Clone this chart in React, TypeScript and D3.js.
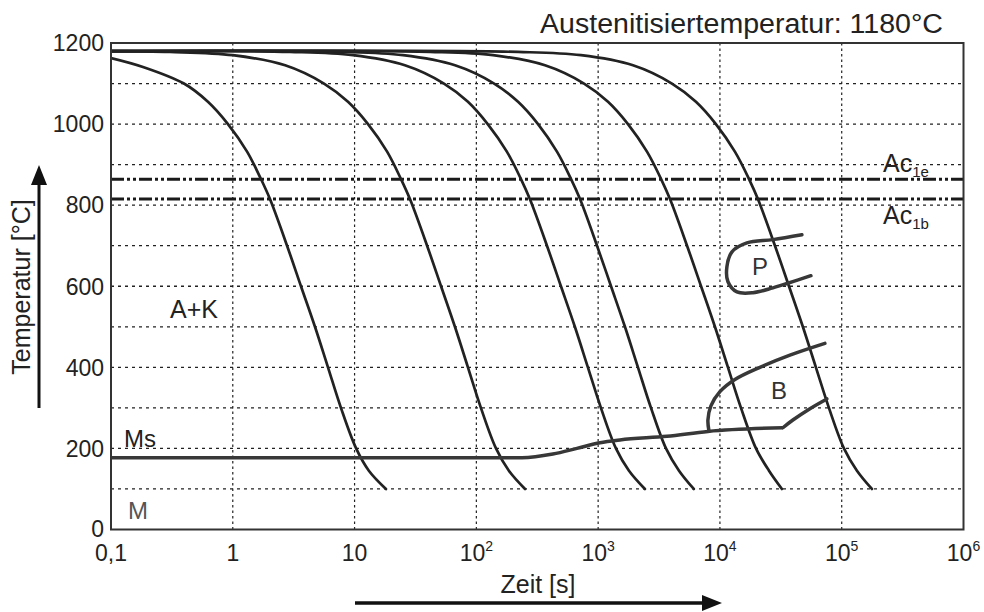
import React from "react";
import * as d3 from "d3";

// ---- data ----
const tempTicks = [0, 200, 400, 600, 800, 1000, 1200];
const tempGrid = [100, 200, 300, 400, 500, 600, 700, 800, 900, 1000, 1100];
const timeDecades = [0.1, 1, 10, 100, 1000, 10000, 100000, 1000000];
const timeTickBase = ["0,1", "1", "10", "10", "10", "10", "10", "10"];
const timeTickExp = ["", "", "", "2", "3", "4", "5", "6"];

const ac1e = 864;
const ac1b = 815;

// cooling curves: time [s], temperature [°C]
const curveA_t = [0.1, 0.183, 0.397, 0.625, 0.913, 1.31, 1.7, 2.02, 2.79, 3.63, 4.73, 6.05, 7.73, 10.3, 13.1, 18.1];
const curveA_T = [1163, 1141, 1100, 1055, 1000, 932, 865, 815, 700, 600, 500, 400, 300, 200, 145, 100];

const curveB_t = [0.1, 0.305, 1.0, 2.69, 5.61, 8.83, 12.9, 18.5, 24.0, 28.5, 39.4, 51.3, 66.7, 85.3, 109, 145, 185, 251];
const curveB_T = [1180, 1178, 1170, 1145, 1100, 1055, 1000, 932, 865, 815, 700, 600, 500, 400, 300, 200, 145, 100];

const curveC_t = [0.1, 2.95, 9.7, 25.9, 54.2, 85.3, 124, 178, 232, 275, 380, 495, 644, 824, 1054, 1400, 1791, 2421];
const curveC_T = [1180, 1178, 1170, 1145, 1100, 1055, 1000, 932, 865, 815, 700, 600, 500, 400, 300, 200, 145, 100];

const curveD_t = [0.1, 7.6, 25.0, 66.8, 140, 220, 321, 459, 598, 710, 979, 1276, 1660, 2123, 2716, 3606, 4613, 6100];
const curveD_T = [1180, 1178, 1170, 1145, 1100, 1055, 1000, 932, 865, 815, 700, 600, 500, 400, 300, 200, 145, 100];

const curveE_t = [0.1, 41.7, 137, 366, 766, 1205, 1758, 2518, 3281, 3890, 5370, 7000, 9100, 11640, 14890, 19770, 25290, 32280];
const curveE_T = [1180, 1178, 1170, 1145, 1100, 1055, 1000, 932, 865, 815, 700, 600, 500, 400, 300, 200, 145, 100];

const curveF_t = [0.1, 220, 723, 1932, 4036, 6353, 9268, 13270, 17300, 20510, 28310, 36900, 47970, 61380, 78520, 104300, 133400, 177000];
const curveF_T = [1180, 1178, 1170, 1145, 1100, 1055, 1000, 932, 865, 815, 700, 600, 500, 400, 300, 200, 145, 100];

// Ms line
const ms_t = [0.1, 237, 425, 670, 1035, 1510, 3673, 7967, 32890];
const ms_T = [177, 177, 186, 200, 214, 221, 230, 242, 251];

// bainite field lower branch
const bLow_t = [32890, 39720, 54830, 75560];
const bLow_T = [251, 270, 298, 322];

// bainite field upper branch
const bUp_t = [8128, 7967, 8433, 10000, 13280, 21290, 37580, 72780];
const bUp_T = [243, 270, 305, 340, 370, 400, 430, 459];

// pearlite field
const p_t = [47100, 27230, 16670, 12560, 11410, 11640, 13800, 18660, 27230, 55850];
const p_T = [727, 715, 707, 685, 648, 611, 586, 584, 596, 626];

// ---- layout ----
const W = 984;
const H = 612;
const L = 111, R = 963.5, T = 43, B = 529.5;
const FONT = "'Liberation Sans', Arial, Helvetica, sans-serif";

const x = d3.scaleLog().domain([0.1, 1e6]).range([L, R]);
const y = d3.scaleLinear().domain([0, 1200]).range([B, T]);

function pts(ts: number[], vs: number[]): [number, number][] {
  return ts.map((t, i) => [t, vs[i]] as [number, number]);
}

const smooth = d3
  .line<[number, number]>()
  .x((d) => x(d[0]))
  .y((d) => y(d[1]))
  .curve(d3.curveCatmullRom.alpha(0.5));

const mono = d3
  .line<[number, number]>()
  .x((d) => x(d[0]))
  .y((d) => y(d[1]))
  .curve(d3.curveMonotoneX);

const cooling = [
  pts(curveA_t, curveA_T),
  pts(curveB_t, curveB_T),
  pts(curveC_t, curveC_T),
  pts(curveD_t, curveD_T),
  pts(curveE_t, curveE_T),
  pts(curveF_t, curveF_T),
];

export default function App() {
  return (
    <svg
      width={W}
      height={H}
      viewBox={`0 0 ${W} ${H}`}
      style={{ position: "absolute", left: 0, top: 0, background: "#fff" }}
      fontFamily={FONT}
    >
      <defs>
        <clipPath id="plot">
          <rect x={L} y={T} width={R - L} height={B - T} />
        </clipPath>
      </defs>

      {/* grid */}
      {tempGrid.map((v) => (
        <line key={"h" + v} x1={L} x2={R} y1={y(v)} y2={y(v)} stroke="#222" strokeWidth={1.3} strokeDasharray="3,4" />
      ))}
      {timeDecades.slice(1, -1).map((v) => (
        <line key={"v" + v} x1={x(v)} x2={x(v)} y1={T} y2={B} stroke="#222" strokeWidth={1.2} strokeDasharray="2.5,3" />
      ))}

      {/* Ac lines */}
      {[ac1e, ac1b].map((v) => (
        <line key={"ac" + v} x1={L} x2={R} y1={y(v)} y2={y(v)} stroke="#1a1a1a" strokeWidth={3} strokeDasharray="13,3,3,3,3,3" />
      ))}

      <g clipPath="url(#plot)">
        {cooling.map((c, i) => (
          <path key={"c" + i} d={smooth(c) || ""} fill="none" stroke="#222" strokeWidth={2.7} strokeLinecap="round" />
        ))}
        <path d={mono(pts(ms_t, ms_T)) || ""} fill="none" stroke="#383838" strokeWidth={3.5} />
        <path d={smooth(pts(bLow_t, bLow_T)) || ""} fill="none" stroke="#383838" strokeWidth={3.5} strokeLinecap="round" />
        <path d={smooth(pts(bUp_t, bUp_T)) || ""} fill="none" stroke="#383838" strokeWidth={3.5} strokeLinecap="round" />
        <path d={smooth(pts(p_t, p_T)) || ""} fill="none" stroke="#383838" strokeWidth={3.5} strokeLinecap="round" />
      </g>

      {/* frame */}
      <rect x={L} y={T} width={R - L} height={B - T} fill="none" stroke="#333" strokeWidth={2} />

      {/* y ticks */}
      {tempTicks.map((v) => (
        <text key={"yt" + v} x={104} y={v === 0 ? 537 : y(v)} dy={v === 0 ? 0 : "0.36em"} textAnchor="end" fontSize={23} fill="#222">
          {v}
        </text>
      ))}

      {/* x ticks */}
      {timeDecades.map((v, i) => (
        <text key={"xt" + v} x={x(v)} y={561} textAnchor="middle" fontSize={23} fill="#222">
          {timeTickBase[i]}
          {timeTickExp[i] ? (
            <tspan fontSize={14} dy={-10}>
              {timeTickExp[i]}
            </tspan>
          ) : null}
        </text>
      ))}

      {/* axis titles */}
      <text x={0} y={0} transform="translate(30,287) rotate(-90)" textAnchor="middle" fontSize={25} fill="#222">
        Temperatur [°C]
      </text>
      <line x1={39} x2={39} y1={408} y2={182} stroke="#111" strokeWidth={3} />
      <polygon points="39,165 31,185 47,185" fill="#111" />

      <text x={538} y={593} textAnchor="middle" fontSize={25} fill="#222">
        Zeit [s]
      </text>
      <line x1={355} x2={705} y1={603} y2={603} stroke="#111" strokeWidth={3.5} />
      <polygon points="722,603 702,595 702,611" fill="#111" />

      {/* title */}
      <text x={943} y={33} textAnchor="end" fontSize={27} fill="#222" textLength={403} lengthAdjust="spacingAndGlyphs">
        Austenitisiertemperatur: 1180°C
      </text>

      {/* annotations */}
      <text x={883} y={172} fontSize={25} fill="#222">
        Ac<tspan fontSize={15} dy={5}>1e</tspan>
      </text>
      <text x={883} y={224} fontSize={25} fill="#222">
        Ac<tspan fontSize={15} dy={5}>1b</tspan>
      </text>
      <text x={170} y={318} fontSize={25} fill="#222">A+K</text>
      <text x={124} y={447} fontSize={24} fill="#222">Ms</text>
      <text x={128} y={519} fontSize={24} fill="#555">M</text>
      <text x={752} y={275} fontSize={24} fill="#333">P</text>
      <text x={771} y={399} fontSize={24} fill="#333">B</text>
    </svg>
  );
}
